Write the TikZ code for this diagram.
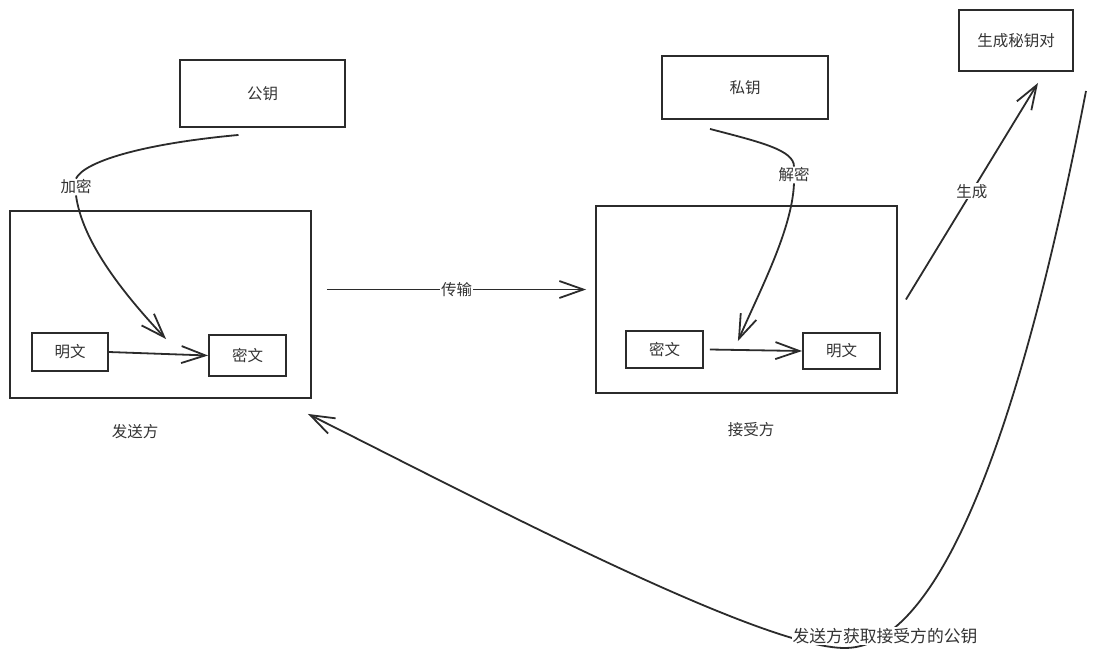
\documentclass[tikz,border=0pt]{standalone}
\usepackage{xcolor}
\usepackage{fontspec}
\setmainfont{Noto Sans CJK SC}
\usepackage{tikz}
\usetikzlibrary{arrows.meta,positioning,calc}
\definecolor{Ink}{HTML}{333333}
\definecolor{Line}{HTML}{2B2B2B}

\begin{document}
\begin{tikzpicture}[x=1pt,y=-1pt,>={Straight Barb[length=24pt,width=17pt]}]
\tikzset{keybox/.style={draw=Line,line width=1.9pt,minimum width=#1,inner sep=0pt,text=Ink,font=\fontsize{15.5}{18}\selectfont}, keybox/.default=77pt,
  partybox/.style={draw=Line,line width=1.9pt,minimum width=301pt,minimum height=187pt,inner sep=0pt},
  lbl/.style={fill=white,inner sep=1pt,text=Ink,font=\fontsize{15.5}{18}\selectfont},
  arrow/.style={->,line width=1.8pt,Line}, curve/.style={line width=1.8pt,Line}}
\useasboundingbox (0,0) rectangle (1111,657);
% sender side
\node[partybox] (send) at (160.5,304.5) {};
\node[keybox=165pt,minimum height=67pt] (pub) at (262.5,93.5) {公钥};
\node[keybox=76pt,minimum height=38pt] (pt1) at (70,352) {明文};
\node[keybox,minimum height=41pt] (ct1) at (247.5,355.5) {密文};
\node[lbl] (sendlbl) at (135,432) {发送方};
\node[lbl] (enc) at (76,187) {加密};
% receiver side
\node[partybox] (recv) at (746.5,299.5) {};
\node[keybox=166pt,minimum height=63pt] (priv) at (745,87.5) {私钥};
\node[keybox,minimum height=37pt] (ct2) at (664.5,349.5) {密文};
\node[keybox,minimum height=36pt] (pt2) at (841.5,351) {明文};
\node[lbl] (recvlbl) at (751,430) {接受方};
\node[lbl] (dec) at (794,175) {解密};
\node[keybox=114pt,minimum height=61pt] (kp) at (1016,40.5) {生成秘钥对};

\draw[curve] ([shift={(-24,7)}]pub.south) .. controls (140,144) and (84,162) .. (enc.north);
\draw[arrow] (enc.south) .. controls (82,240) and (120,290) .. ([shift={(-42,5)}]ct1.north west);
\draw[arrow] (pt1.east) -- (ct1.west);
\draw[curve] ([shift={(-35,9)}]priv.south) .. controls (760,142) and (794,150) .. (dec.north);
\draw[arrow] (dec.south) .. controls (792,230) and (760,290) .. ([shift={(34,11)}]ct2.north east);
\draw[arrow] ([xshift=6pt]ct2.east) -- (pt2.west);
\draw[arrow] ([shift={(15,-15)}]send.east) -- node[lbl] (tr) {传输} ([shift={(-9,-10)}]recv.west);
\draw[arrow] ([xshift=8pt]recv.east) -- node[lbl,pos=0.5] (gen) {生成} ([shift={(22,11)}]kp.south);
\draw[arrow] ([shift={(70,19)}]kp.south) .. controls (1040,330) and (960,648) .. (845,648)
  .. controls (760,648) and (480,500) .. ([shift={(-4,15)}]send.south east);
\node[lbl,font=\fontsize{16.8}{20}\selectfont] (get) at (885,636) {发送方获取接受方的公钥};
\end{tikzpicture}
\end{document}
